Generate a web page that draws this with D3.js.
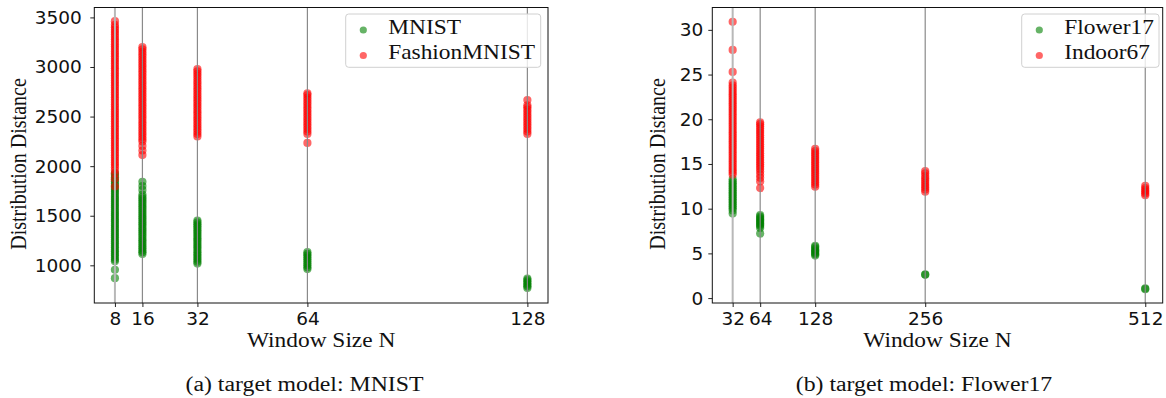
<!DOCTYPE html>
<html>
<head>
<meta charset="utf-8">
<script src="https://cdn.jsdelivr.net/npm/d3@7"></script>
<style>
  body { margin: 0; background: #fff; }
  svg { display: block; }
</style>
</head>
<body>
<svg id="chart" width="1166" height="398"></svg>
<script>
// ---- data ----
const sizesA = [8, 16, 32, 64, 128];
const sizesB = [32, 64, 128, 256, 512];
const yTicksA = [1000, 1500, 2000, 2500, 3000, 3500];
const yTicksB = [0, 5, 10, 15, 20, 25, 30];

// panel (a): one list of distances per window size
const mnist = [
  [870, 955, 1040, 1058, 1080, 1101, 1120, 1142, 1160, 1181, 1200, 1222, 1241, 1260, 1283, 1300, 1321, 1340, 1362, 1380, 1401, 1420, 1443, 1460, 1480, 1502, 1520, 1541, 1560, 1583, 1600, 1621, 1640, 1662, 1680, 1700, 1722, 1741, 1762, 1780, 1803, 1822, 1845, 1866, 1888, 1910, 1932],
  [1115, 1133, 1150, 1172, 1190, 1210, 1231, 1250, 1268, 1290, 1310, 1331, 1350, 1369, 1390, 1411, 1430, 1450, 1471, 1490, 1510, 1529, 1550, 1571, 1590, 1610, 1632, 1650, 1671, 1690, 1712, 1760, 1800, 1842],
  [1018, 1036, 1055, 1074, 1095, 1114, 1133, 1155, 1176, 1195, 1214, 1236, 1255, 1274, 1295, 1316, 1335, 1354, 1376, 1395, 1414, 1433, 1452],
  [962, 980, 1001, 1019, 1040, 1061, 1079, 1098, 1116, 1133],
  [772, 788, 804, 820, 836, 851, 866]
];
const fashion = [
  [1795, 1870, 1925, 1960, 1990, 2014, 2038, 2062, 2087, 2111, 2135, 2160, 2184, 2208, 2233, 2257, 2281, 2306, 2330, 2354, 2379, 2403, 2427, 2452, 2476, 2500, 2525, 2549, 2573, 2598, 2622, 2646, 2671, 2695, 2719, 2744, 2768, 2792, 2817, 2841, 2865, 2890, 2914, 2938, 2963, 2987, 3011, 3036, 3060, 3084, 3109, 3133, 3157, 3182, 3206, 3230, 3255, 3279, 3303, 3328, 3352, 3376, 3401, 3425, 3462],
  [2112, 2158, 2204, 2248, 2272, 2296, 2321, 2345, 2370, 2394, 2419, 2443, 2468, 2492, 2517, 2541, 2566, 2590, 2615, 2639, 2664, 2688, 2713, 2737, 2762, 2786, 2811, 2835, 2860, 2884, 2909, 2933, 2958, 2982, 3007, 3031, 3056, 3080, 3105, 3129, 3154, 3178, 3200],
  [2300, 2324, 2348, 2373, 2397, 2421, 2446, 2470, 2494, 2519, 2543, 2567, 2592, 2616, 2640, 2665, 2689, 2713, 2738, 2762, 2786, 2811, 2835, 2859, 2884, 2908, 2932, 2955, 2978],
  [2234, 2325, 2349, 2374, 2398, 2423, 2447, 2472, 2496, 2521, 2545, 2570, 2594, 2619, 2643, 2668, 2692, 2717, 2734],
  [2325, 2349, 2374, 2398, 2423, 2447, 2472, 2496, 2521, 2545, 2570, 2594, 2612, 2666]
];

// panel (b)
const flower17 = [
  [9.45, 9.8, 10.05, 10.25, 10.45, 10.65, 10.85, 11.05, 11.25, 11.45, 11.65, 11.85, 12.05, 12.25, 12.45, 12.65, 12.85, 13.05, 13.3],
  [7.22, 7.85, 8.05, 8.2, 8.35, 8.5, 8.65, 8.8, 8.95, 9.1, 9.28],
  [4.75, 4.9, 5.05, 5.2, 5.35, 5.5, 5.7, 5.85],
  [2.6, 2.65],
  [1.0, 1.08]
];
const indoor67 = [
  [13.8, 14.05, 14.3, 14.55, 14.8, 15.05, 15.3, 15.55, 15.8, 16.05, 16.3, 16.55, 16.8, 17.05, 17.3, 17.55, 17.8, 18.05, 18.3, 18.55, 18.8, 19.05, 19.3, 19.55, 19.8, 20.05, 20.3, 20.55, 20.8, 21.05, 21.3, 21.55, 21.8, 22.05, 22.3, 22.55, 22.8, 23.05, 23.3, 23.55, 23.8, 24.1, 25.3, 27.75, 30.9],
  [12.3, 13.05, 13.45, 13.8, 14.15, 14.45, 14.7, 14.95, 15.2, 15.45, 15.7, 15.95, 16.2, 16.45, 16.7, 16.95, 17.2, 17.45, 17.7, 17.95, 18.2, 18.45, 18.7, 18.95, 19.2, 19.45, 19.65],
  [12.45, 12.7, 12.95, 13.2, 13.45, 13.7, 13.95, 14.2, 14.45, 14.7, 14.95, 15.2, 15.45, 15.7, 15.95, 16.2, 16.45, 16.7],
  [11.9, 12.15, 12.4, 12.65, 12.9, 13.15, 13.4, 13.65, 13.95, 14.2],
  [11.5, 11.7, 11.9, 12.1, 12.3, 12.55]
];

// ---- drawing ----
const svg = d3.select("#chart");
const serif = "'Liberation Serif', 'Times New Roman', serif";
const sans = "'DejaVu Sans', sans-serif";
const stretch = 1.17;   // the serif text in the picture is a bit wide

function serifText(g, x, y, str, size, anchor, sx) {
  return g.append("text")
    .attr("transform", `translate(${x},${y}) scale(${sx || stretch},1)`)
    .attr("text-anchor", anchor)
    .style("font-family", serif)
    .style("font-size", size + "px")
    .attr("fill", "#111")
    .text(str);
}

function drawPanel(p) {
  const g = svg.append("g");

  const x = d3.scaleLinear().domain(p.xDomain).range([p.left, p.right]);
  const y = d3.scaleLinear().domain(p.yDomain).range([p.bottom, p.top]);

  // scatter, green first then red on top
  p.series.forEach(s => {
    const pts = [];
    p.sizes.forEach((n, i) => s.values[i].forEach(v => pts.push({ n: n, v: v })));
    g.append("g").selectAll("circle")
      .data(pts)
      .enter()
      .append("circle")
      .attr("cx", d => x(d.n))
      .attr("cy", d => y(d.v))
      .attr("r", 4.1)
      .attr("fill", s.color)
      .attr("fill-opacity", 0.6);
  });

  // vertical guide lines at each window size
  g.append("g").selectAll("line")
    .data(p.sizes)
    .enter()
    .append("line")
    .attr("x1", d => x(d)).attr("x2", d => x(d))
    .attr("y1", p.top).attr("y2", p.bottom)
    .attr("stroke", (d, i) => i === 0 ? "#b8b8b8" : "#8a8a8a")
    .attr("stroke-width", (d, i) => i === 0 ? 2 : 1.2);

  // axes
  const xAxis = g.append("g")
    .attr("transform", `translate(0,${p.bottom})`)
    .call(d3.axisBottom(x).tickValues(p.sizes).tickFormat(d3.format("d"))
      .tickSize(4).tickPadding(4.5).tickSizeOuter(0));
  const yAxis = g.append("g")
    .attr("transform", `translate(${p.left},0)`)
    .call(d3.axisLeft(y).tickValues(p.yTicks).tickFormat(d3.format("d"))
      .tickSize(4).tickPadding(p.yPad).tickSizeOuter(0));
  [xAxis, yAxis].forEach(a => {
    a.select(".domain").remove();
    a.selectAll("line").attr("stroke", "#222");
    a.selectAll("text").style("font-family", sans).style("font-size", "18.5px").attr("fill", "#111");
  });

  // frame
  g.append("rect")
    .attr("x", p.left).attr("y", p.top)
    .attr("width", p.right - p.left).attr("height", p.bottom - p.top)
    .attr("fill", "none").attr("stroke", "#111").attr("stroke-width", 1);

  // labels
  serifText(g, (p.left + p.right) / 2, 346.5, "Window Size N", 20, "middle");
  g.append("text")
    .attr("transform", `translate(${p.yLabelX},164) rotate(-90) scale(1,${stretch})`)
    .attr("text-anchor", "middle")
    .style("font-family", serif)
    .style("font-size", "20px")
    .attr("fill", "#111")
    .text("Distribution Distance");
  serifText(g, p.captionX, 391, p.caption, 20, "middle", 1.19);

  // legend
  const lg = g.append("g");
  lg.append("rect")
    .attr("x", p.legend.x).attr("y", 14)
    .attr("width", p.legend.w).attr("height", 53.3)
    .attr("rx", 3)
    .attr("fill", "#fff").attr("fill-opacity", 0.8)
    .attr("stroke", "#d0d0d0").attr("stroke-width", 1);
  p.series.forEach((s, i) => {
    const cy = 30 + i * 25.5;
    lg.append("circle")
      .attr("cx", p.legend.x + 17.6).attr("cy", cy).attr("r", 3.6)
      .attr("fill", s.color).attr("fill-opacity", 0.6);
    serifText(lg, p.legend.x + 42.5, cy + 3.6, s.name, 20, "start");
  });
}

drawPanel({
  left: 94.3, right: 548, top: 7.5, bottom: 303,
  xDomain: [2, 134], yDomain: [620, 3600],
  sizes: sizesA, yTicks: yTicksA, yPad: 8.5, yLabelX: 25.5,
  caption: "(a) target model: MNIST", captionX: 304.5,
  legend: { x: 345.7, w: 195 },
  series: [
    { name: "MNIST", color: "#008000", values: mnist },
    { name: "FashionMNIST", color: "#ff0000", values: fashion }
  ]
});

drawPanel({
  left: 712.3, right: 1162.7, top: 7.5, bottom: 303,
  xDomain: [8.3, 532.3], yDomain: [-0.55, 32.5],
  sizes: sizesB, yTicks: yTicksB, yPad: 5, yLabelX: 665,
  caption: "(b) target model: Flower17", captionX: 924,
  legend: { x: 1021.7, w: 137.3 },
  series: [
    { name: "Flower17", color: "#008000", values: flower17 },
    { name: "Indoor67", color: "#ff0000", values: indoor67 }
  ]
});
</script>
</body>
</html>
